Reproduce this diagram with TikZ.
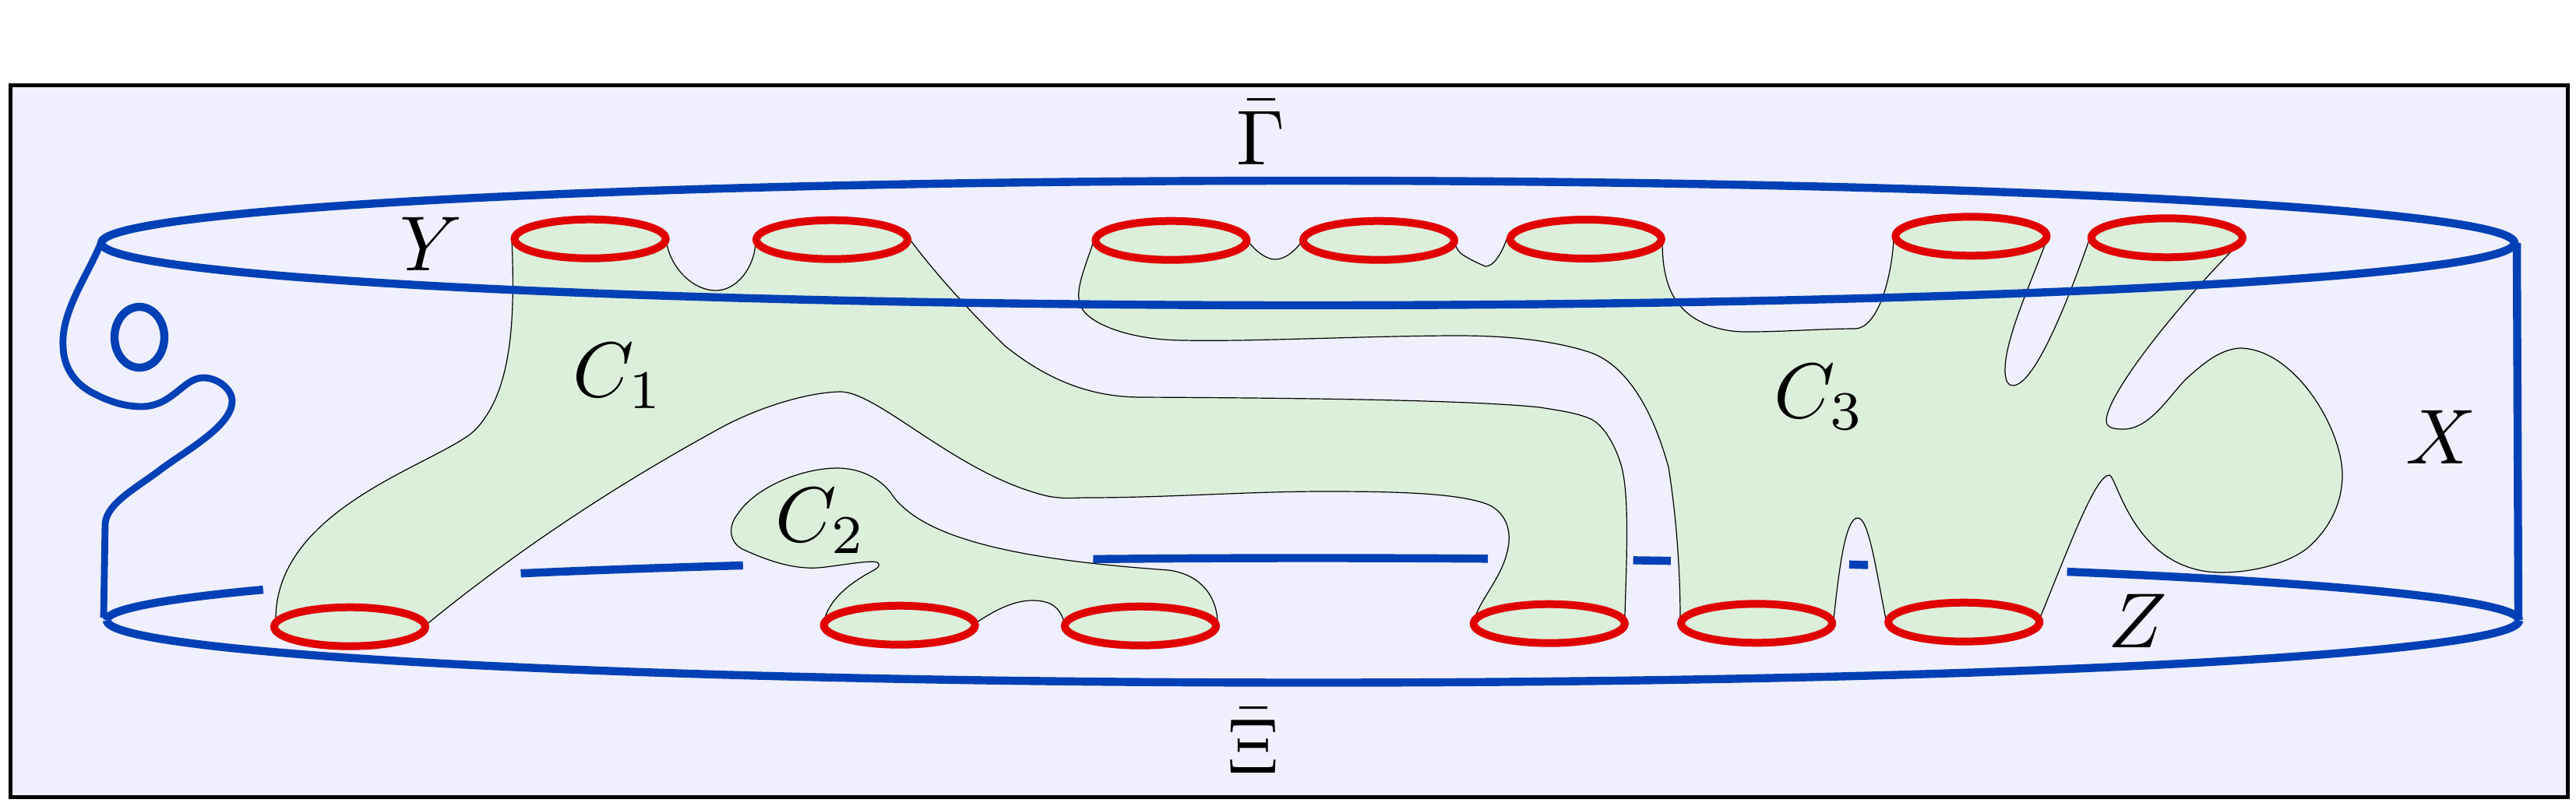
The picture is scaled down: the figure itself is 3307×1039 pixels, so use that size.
\documentclass[tikz,border=0pt]{standalone}
\usepackage{amsmath}
\definecolor{paneback}{HTML}{EFEFFD}
\definecolor{regiongreen}{HTML}{DCEFDB}
\definecolor{rimblue}{HTML}{0040B6}
\definecolor{holered}{HTML}{E00000}
\tikzset{
	panel/.style={draw=black,fill=paneback,line width=1.25pt},
	region/.style={draw=black,fill=regiongreen,line width=0.3pt},
	rim/.style={draw=rimblue,line width=2.6pt},
	seam/.style={draw=rimblue,line width=2.2pt},
	hole/.style={draw=holered,fill=regiongreen,line width=2.5pt},
	mathlabel/.style={inner sep=0pt,scale=2.5}
}
\begin{document}
\begin{tikzpicture}[x=0.25pt,y=0.25pt,yscale=-1,xscale=1]
	\useasboundingbox (0,0) rectangle (3307,1039);
	\draw [panel] (13,109) rectangle (3296.5,1023);

	\draw [region] (657,307) .. controls (662,420) and (655,505) .. (610,552) .. controls (565,595) and (354,650) .. (354,795) -- (546,803) .. controls (672,700) and (798,619) .. (924,550) .. controls (975,522) and (1040,503) .. (1080,503) .. controls (1130,505) and (1230,610) .. (1345,637) .. controls (1365,641) and (1380,639) .. (1395,639) .. controls (1500,639) and (1600,631) .. (1700,631) .. controls (1780,631) and (1880,632) .. (1915,650) .. controls (1935,662) and (1942,685) .. (1934,712) .. controls (1925,745) and (1900,770) .. (1893,795) -- (2086,790) .. controls (2088,720) and (2092,640) .. (2082,600) .. controls (2075,575) and (2060,545) .. (2040,537) .. controls (2020,529) and (2000,527) .. (1977,523) .. controls (1880,513) and (1650,511) .. (1465,510) .. controls (1390,510) and (1335,480) .. (1290,444) .. controls (1245,400) and (1200,350) .. (1170,310) -- (970,312) .. controls (968,345) and (945,373) .. (919,373) .. controls (890,373) and (862,345) .. (856,313) -- cycle ;
	\draw [region] (1060,790) .. controls (1068,770) and (1085,752) .. (1120,733) .. controls (1128,729) and (1131,725) .. (1126,722) .. controls (1118,719) and (1085,725) .. (1060,728) .. controls (1025,733) and (990,722) .. (953,705) .. controls (935,695) and (935,675) .. (947,660) .. controls (970,625) and (1030,601) .. (1075,601) .. controls (1105,601) and (1130,615) .. (1143,632) .. controls (1180,690) and (1300,718) .. (1500,732) .. controls (1545,738) and (1563,770) .. (1563,800) -- (1366,798) .. controls (1360,780) and (1350,771) .. (1325,771) .. controls (1300,771) and (1275,785) .. (1254,799) -- cycle ;
	\draw [region] (1403,313) .. controls (1390,350) and (1380,375) .. (1387,392) .. controls (1395,415) and (1450,437) .. (1521,437) .. controls (1600,439) and (1760,431) .. (1872,431) .. controls (1930,431) and (1990,436) .. (2040,452) .. controls (2085,467) and (2120,520) .. (2142,600) .. controls (2150,650) and (2157,720) .. (2157,795) -- (2354,795) .. controls (2361,730) and (2369,665) .. (2385,665) .. controls (2399,665) and (2408,730) .. (2421,795) -- (2619,793) .. controls (2657,700) and (2690,610) .. (2708,610) .. controls (2718,612) and (2740,735) .. (2852,735) .. controls (2895,735) and (2940,722) .. (2963,703) .. controls (2995,675) and (3007,640) .. (3007,610) .. controls (3007,550) and (2945,447) .. (2875,447) .. controls (2850,449) and (2830,465) .. (2806,487) .. controls (2785,508) and (2760,551) .. (2726,551) .. controls (2715,551) and (2704,550) .. (2704,540) .. controls (2704,510) and (2780,410) .. (2865,322) -- (2682,308) .. controls (2650,400) and (2610,495) .. (2584,495) .. controls (2578,495) and (2575,490) .. (2574,478) .. controls (2573,440) and (2600,380) .. (2625,315) -- (2431,305) .. controls (2430,345) and (2414,420) .. (2382,422) .. controls (2340,422) and (2290,426) .. (2246,426) .. controls (2215,427) and (2180,418) .. (2159,395) .. controls (2140,375) and (2134,345) .. (2134,310) -- (1935,305) .. controls (1928,325) and (1918,342) .. (1907,342) .. controls (1897,338) and (1881,330) .. (1875,325) .. controls (1870,320) and (1868,315) .. (1868,308) -- (1669,313) .. controls (1662,322) and (1650,333) .. (1637,333) .. controls (1625,333) and (1612,322) .. (1604,312) -- cycle ;

	\draw [rim] (1679,312) ellipse (1549 and 80);
	\draw [rim] (137,796.5) arc [start angle=180,end angle=209.5,x radius=1548.5,y radius=80];
	\draw [rim] ([shift={(1685.5,796.5)}] 228.95:1548.5 and 80) arc [start angle=228.95,end angle=241.8,x radius=1548.5,y radius=80];
	\draw [rim] ([shift={(1685.5,796.5)}] 259.5:1548.5 and 80) arc [start angle=259.5,end angle=278.34,x radius=1548.5,y radius=80];
	\draw [rim] ([shift={(1685.5,796.5)}] 285.4:1548.5 and 80) arc [start angle=285.4,end angle=287.26,x radius=1548.5,y radius=80];
	\draw [rim] ([shift={(1685.5,796.5)}] 296.4:1548.5 and 80) arc [start angle=296.4,end angle=297.4,x radius=1548.5,y radius=80];
	\draw [rim] ([shift={(1685.5,796.5)}] 308.7:1548.5 and 80) arc [start angle=308.7,end angle=360,x radius=1548.5,y radius=80];
	\draw [rim] ([shift={(1685.5,796.5)}] 0:1548.5 and 80) arc [start angle=0,end angle=180,x radius=1548.5,y radius=80];
	\draw [rim] (3231,312) -- (3233,796);
	\draw [rim] (179,433) ellipse (32 and 39);
	\draw [seam] (130,311) .. controls (112,355) and (78,400) .. (81,445) .. controls (82,480) and (105,498) .. (122,506) .. controls (145,518) and (165,522) .. (181,522) .. controls (222,522) and (235,485) .. (261,485) .. controls (280,485) and (298,500) .. (298,515) .. controls (298,545) and (245,575) .. (210,600) .. controls (175,627) and (138,645) .. (135,672) -- (133,793) ;

	\draw [hole] (757.6,306.7) ellipse (97 and 25);
	\draw [hole] (1068,307.7) ellipse (97 and 25);
	\draw [hole] (1503.4,308.7) ellipse (97 and 25);
	\draw [hole] (1770,308.7) ellipse (97 and 25);
	\draw [hole] (2035.8,307) ellipse (97 and 25);
	\draw [hole] (2530.4,303.3) ellipse (97 and 25);
	\draw [hole] (2781.8,305.3) ellipse (97 and 25);
	\draw [hole] (449,804.7) ellipse (97 and 25);
	\draw [hole] (1154.7,802.7) ellipse (97 and 25);
	\draw [hole] (1464,803.7) ellipse (97 and 25);
	\draw [hole] (1988.8,800.7) ellipse (97 and 25);
	\draw [hole] (2255.1,800.3) ellipse (97 and 25);
	\draw [hole] (2521.2,798.7) ellipse (97 and 25);

	\draw (1619,170) node (gammalabel) [mathlabel] {$\bar\Gamma$};
	\draw (1609,951) node (xilabel) [mathlabel] {$\bar\Xi$};
	\draw (554,313) node (ylabel) [mathlabel] {$Y$};
	\draw (3134,561) node (xlabel) [mathlabel] {$X$};
	\draw (2744,797) node (zlabel) [mathlabel] {$Z$};
	\draw (794,483) node (cone) [mathlabel] {$C_1$};
	\draw (1054,669) node (ctwo) [mathlabel] {$C_2$};
	\draw (2336,510) node (cthree) [mathlabel] {$C_3$};
\end{tikzpicture}
\end{document}
